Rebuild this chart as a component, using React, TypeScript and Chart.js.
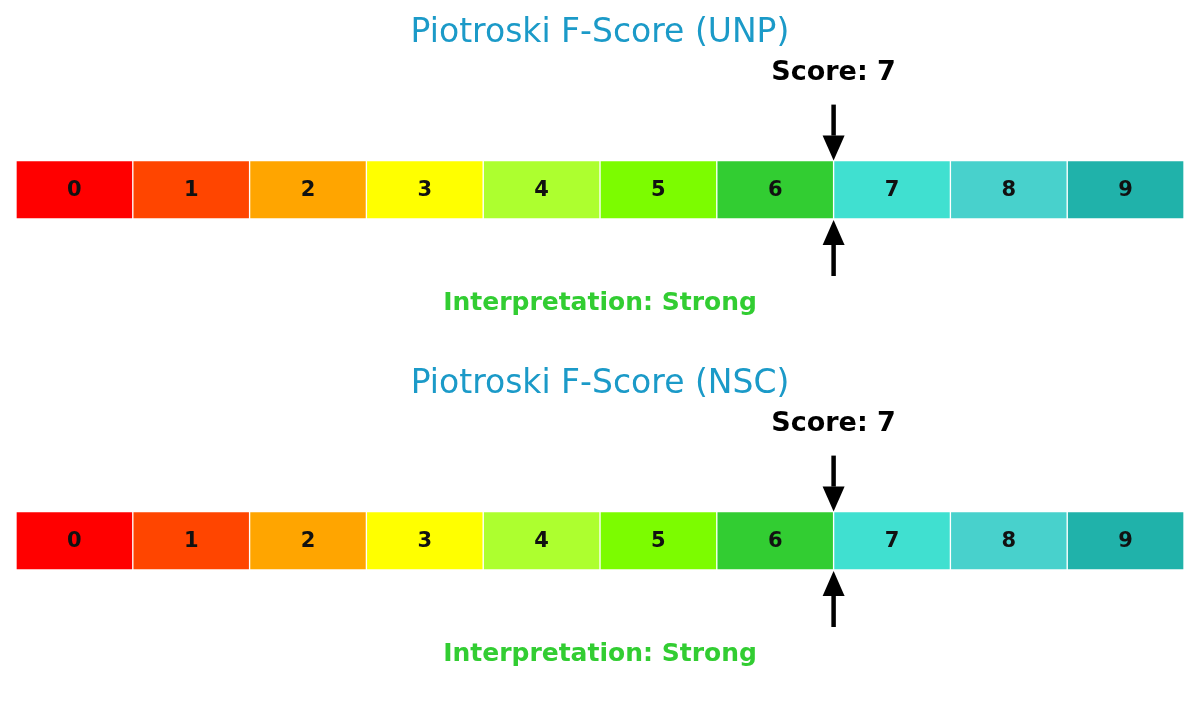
import { Chart, registerables } from "chart.js";
import { useEffect, useRef } from "react";

Chart.register(...registerables);

// score bands shown on the gauge
const segmentLabels = ["0", "1", "2", "3", "4", "5", "6", "7", "8", "9"];
const segmentColors = [
  "#FF0000", "#FF4500", "#FFA500", "#FFFF00", "#ADFF2F",
  "#7CFC00", "#32CD32", "#40E0D0", "#48D1CC", "#20B2AA",
];

const companies = ["UNP", "NSC"];
const scores = [7, 7];
const interpretations = ["Strong", "Strong"];

const FONT = "'DejaVu Sans', sans-serif";

const drawArrow = (ctx: CanvasRenderingContext2D, x: number, tail: number, tip: number) => {
  const dir = tip > tail ? 1 : -1;
  const headLen = 25;
  const headHalf = 11;
  ctx.save();
  ctx.strokeStyle = "#000";
  ctx.fillStyle = "#000";
  ctx.lineWidth = 4.5;
  ctx.beginPath();
  ctx.moveTo(x, tail);
  ctx.lineTo(x, tip - dir * headLen);
  ctx.stroke();
  ctx.beginPath();
  ctx.moveTo(x, tip);
  ctx.lineTo(x - headHalf, tip - dir * headLen);
  ctx.lineTo(x + headHalf, tip - dir * headLen);
  ctx.closePath();
  ctx.fill();
  ctx.restore();
};

const gaugePlugin = {
  id: "gaugeMarks",
  afterDatasetsDraw(chart: any, _args: any, opts: any) {
    const { ctx, chartArea, scales } = chart;
    ctx.save();
    // labels inside each band
    ctx.font = `bold 21px ${FONT}`;
    ctx.fillStyle = "#111";
    ctx.textAlign = "center";
    ctx.textBaseline = "middle";
    chart.data.datasets.forEach((_ds: any, i: number) => {
      const el = chart.getDatasetMeta(i).data[0];
      if (!el) return;
      ctx.fillText(segmentLabels[i], (el.x + el.base) / 2, el.y + 1);
    });

    const xs = scales.x.getPixelForValue(opts.score);
    drawArrow(ctx, xs, chartArea.top - 56, chartArea.top);
    drawArrow(ctx, xs, chartArea.bottom + 57, chartArea.bottom + 1);

    ctx.font = `bold 27px ${FONT}`;
    ctx.fillStyle = "#000";
    ctx.fillText(`Score: ${opts.score}`, xs, chartArea.top - 88);

    ctx.font = `bold 25px ${FONT}`;
    ctx.fillStyle = "#32CD32";
    ctx.fillText(`Interpretation: ${opts.interpretation}`, (chartArea.left + chartArea.right) / 2, chartArea.bottom + 84);
    ctx.restore();
  },
};

const ScoreGauge = ({ company, score, interpretation }: { company: string; score: number; interpretation: string }) => {
  const chartRef = useRef<HTMLCanvasElement>(null);

  useEffect(() => {
    if (!chartRef.current) return;
    const chartInstance = new Chart(chartRef.current, {
      type: "bar",
      data: {
        labels: ["F-Score"],
        datasets: segmentLabels.map((_l, i) => ({
          label: segmentLabels[i],
          data: [[i, i + 1]] as any,
          backgroundColor: segmentColors[i],
          borderColor: "#ffffff",
          borderWidth: 1,
          borderSkipped: false,
          grouped: false,
          barPercentage: 1,
          categoryPercentage: 1,
        })),
      },
      options: {
        indexAxis: "y",
        animation: false,
        responsive: true,
        maintainAspectRatio: false,
        layout: { padding: { left: 16, right: 16, top: 0, bottom: 132 } },
        scales: {
          x: { type: "linear", min: 0, max: segmentLabels.length, display: false },
          y: { display: false },
        },
        plugins: {
          legend: { display: false },
          tooltip: { enabled: false },
          title: {
            display: true,
            text: `Piotroski F-Score (${company})`,
            color: "#1B9AC8",
            font: { family: FONT, size: 33, weight: "normal" },
            padding: { top: 14, bottom: 107 },
          },
          gaugeMarks: { score, interpretation },
        } as any,
      },
      plugins: [gaugePlugin],
    });
    return () => {
      chartInstance.destroy();
    };
  }, [company, score, interpretation]);

  return (
    <div style={{ position: "relative", height: "351px", width: "1200px" }}>
      <canvas ref={chartRef}></canvas>
    </div>
  );
};

export default function App() {
  useEffect(() => {
    document.body.style.margin = "0";
    document.body.style.background = "#fff";
  }, []);
  return (
    <div style={{ width: "1200px", height: "702px", background: "#fff" }}>
      {companies.map((c, i) => (
        <ScoreGauge key={c} company={c} score={scores[i]} interpretation={interpretations[i]} />
      ))}
    </div>
  );
}
